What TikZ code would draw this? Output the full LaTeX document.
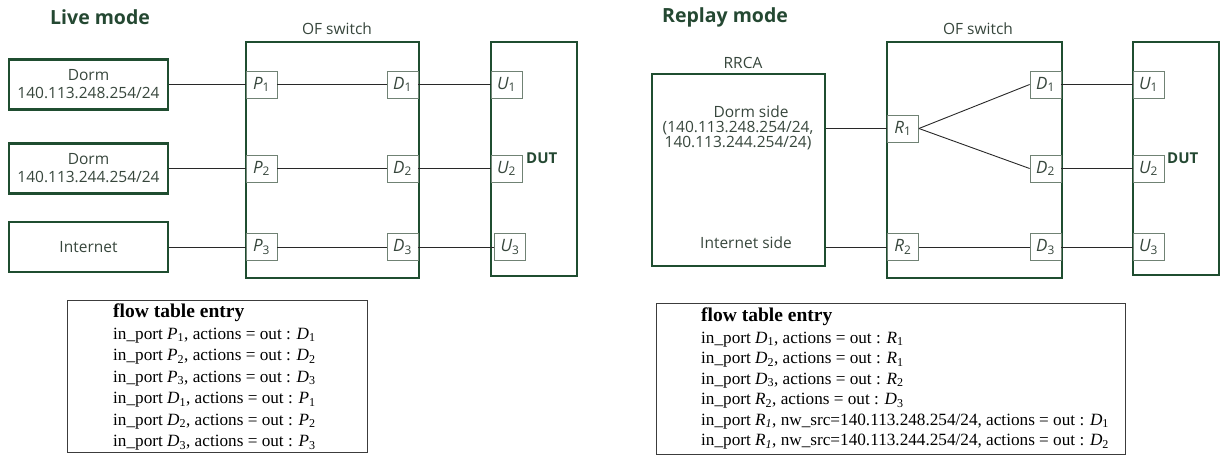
\documentclass[tikz,border=0pt]{standalone}
\usepackage{fontspec}
\setmainfont{Liberation Serif}
\newfontfamily\osans{Open Sans}
\definecolor{boxgreen}{RGB}{31,77,48}
\definecolor{titlegreen}{RGB}{36,72,50}
\definecolor{labelgray}{RGB}{55,70,60}
\definecolor{portgray}{RGB}{112,130,116}
\definecolor{wiregray}{RGB}{40,40,40}
\definecolor{tablegray}{RGB}{60,60,60}
\newcommand{\pl}[2]{\textit{#1}\textsubscript{#2}}
\begin{document}
\begin{tikzpicture}[x=1pt,y=-1pt,
  bigbox/.style={draw=boxgreen, line width=2.7pt, inner sep=0pt},
  lbl/.style={font=\osans\fontsize{15.5}{18}\selectfont, text=labelgray, align=center},
  port/.style={draw=portgray, line width=0.8pt, minimum width=31pt, minimum height=27pt, inner sep=0pt,
    font=\osans\fontsize{17}{17}\selectfont, text=labelgray},
  wire/.style={draw=wiregray, line width=0.9pt},
  tablebox/.style={draw=tablegray, line width=0.9pt, inner sep=0pt},
  tline/.style={anchor=base west, inner sep=0pt, font=\fontsize{17.2}{21}\selectfont},
  ttitle/.style={anchor=base west, inner sep=0pt, font=\bfseries\fontsize{19.5}{21}\selectfont},
  modetitle/.style={anchor=west, inner sep=0pt, font=\osans\bfseries\fontsize{19.5}{20}\selectfont, text=titlegreen},
  dutlbl/.style={anchor=west, inner sep=0pt, font=\osans\bfseries\fontsize{15}{15}\selectfont, text=titlegreen}
]
\useasboundingbox (0,0) rectangle (1224,457);

% ---------------- Live mode ----------------
\node[modetitle] (livet) at (50,17) {Live mode};

\node[bigbox, lbl, minimum width=159pt, minimum height=50pt] (dorm1) at (88.5,84.5) {Dorm\\140.113.248.254/24};
\node[bigbox, lbl, minimum width=159pt, minimum height=50pt] (dorm2) at (88.5,168.5) {Dorm\\140.113.244.254/24};
\node[bigbox, lbl, minimum width=159pt, minimum height=50pt] (inet) at (88.5,247) {Internet};

\node[bigbox, minimum width=173pt, minimum height=236pt] (swl) at (332.5,160) {};
\node[lbl] (swlt) at (337,29) {OF switch};
\node[port] (p1) at (261.5,84.5) {\pl{P}{1}};
\node[port] (p2) at (261.5,168.5) {\pl{P}{2}};
\node[port] (p3) at (261.5,247) {\pl{P}{3}};
\node[port] (ld1) at (402.5,84.5) {\pl{D}{1}};
\node[port] (ld2) at (402.5,168.5) {\pl{D}{2}};
\node[port] (ld3) at (402.5,247) {\pl{D}{3}};

\node[bigbox, minimum width=86pt, minimum height=234pt] (dutl) at (534,159) {};
\node[port] (lu1) at (506.5,84.5) {\pl{U}{1}};
\node[port] (lu2) at (506.5,168.5) {\pl{U}{2}};
\node[port] (lu3) at (510,247) {\pl{U}{3}};
\node[dutlbl] (dutlt) at (526,158) {DUT};

\draw[wire] (dorm1.east) -- (p1.west);
\draw[wire] (dorm2.east) -- (p2.west);
\draw[wire] (inet.east) -- (p3.west);
\draw[wire] (p1.east) -- (ld1.west);
\draw[wire] (p2.east) -- (ld2.west);
\draw[wire] (p3.east) -- (ld3.west);
\draw[wire] (ld1.east) -- (lu1.west);
\draw[wire] (ld2.east) -- (lu2.west);
\draw[wire] (ld3.east) -- (lu3.west);

% flow table (live)
\node[tablebox, minimum width=300pt, minimum height=152pt] (ftl) at (217,376) {};
\node[ttitle] (ftl0) at (113,317) {flow table entry};
\node[tline] (ftl1) at (113,339) {in\_port \pl{P}{1}, actions = out : \pl{D}{1}};
\node[tline] (ftl2) at (113,360.5) {in\_port \pl{P}{2}, actions = out : \pl{D}{2}};
\node[tline] (ftl3) at (113,382) {in\_port \pl{P}{3}, actions = out : \pl{D}{3}};
\node[tline] (ftl4) at (113,403.5) {in\_port \pl{D}{1}, actions = out : \pl{P}{1}};
\node[tline] (ftl5) at (113,425) {in\_port \pl{D}{2}, actions = out : \pl{P}{2}};
\node[tline] (ftl6) at (113,446.5) {in\_port \pl{D}{3}, actions = out : \pl{P}{3}};

% ---------------- Replay mode ----------------
\node[modetitle] (rept) at (662,17) {Replay mode};

\node[bigbox, minimum width=173pt, minimum height=192pt] (rrca) at (738.5,170) {};
\node[lbl] (rrcat) at (743,63) {RRCA};
\node[lbl, font=\osans\fontsize{15.5}{15}\selectfont] (dside) at (738,128) {\hspace*{26pt}Dorm side\\(140.113.248.254/24,\\140.113.244.254/24)};
\node[lbl] (iside) at (746,243) {Internet side};

\node[bigbox, minimum width=175pt, minimum height=236pt] (swr) at (974.5,160) {};
\node[lbl] (swrt) at (978,29) {OF switch};
\node[port] (r1) at (903,128.5) {\pl{R}{1}};
\node[port] (r2) at (903,247) {\pl{R}{2}};
\node[port] (rd1) at (1045.5,84.5) {\pl{D}{1}};
\node[port] (rd2) at (1045.5,168.5) {\pl{D}{2}};
\node[port] (rd3) at (1045.5,247) {\pl{D}{3}};

\node[bigbox, minimum width=86pt, minimum height=233pt] (dutr) at (1176,158.5) {};
\node[port] (ru1) at (1148.5,84.5) {\pl{U}{1}};
\node[port] (ru2) at (1148.5,168.5) {\pl{U}{2}};
\node[port] (ru3) at (1148.5,247) {\pl{U}{3}};
\node[dutlbl] (dutrt) at (1167,158) {DUT};

\draw[wire] (rrca.east |- r1.west) -- (r1.west);
\draw[wire] (rrca.east |- r2.west) -- (r2.west);
\draw[wire] (r1.east) -- (rd1.west);
\draw[wire] (r1.east) -- (rd2.west);
\draw[wire] (r2.east) -- (rd3.west);
\draw[wire] (rd1.east) -- (ru1.west);
\draw[wire] (rd2.east) -- (ru2.west);
\draw[wire] (rd3.east) -- (ru3.west);

% flow table (replay)
\node[tablebox, minimum width=469pt, minimum height=151pt] (ftr) at (890.5,378.5) {};
\node[ttitle] (ftr0) at (701,321) {flow table entry};
\node[tline] (ftr1) at (701,343) {in\_port \pl{D}{1}, actions = out : \pl{R}{1}};
\node[tline] (ftr2) at (701,363.5) {in\_port \pl{D}{2}, actions = out : \pl{R}{1}};
\node[tline] (ftr3) at (701,384) {in\_port \pl{D}{3}, actions = out : \pl{R}{2}};
\node[tline] (ftr4) at (701,404.5) {in\_port \pl{R}{2}, actions = out : \pl{D}{3}};
\node[tline] (ftr5) at (701,425) {in\_port \textit{R}\textsubscript{\textit{1}}, nw\_src=140.113.248.254/24, actions = out : \pl{D}{1}};
\node[tline] (ftr6) at (701,445.5) {in\_port \textit{R}\textsubscript{\textit{1}}, nw\_src=140.113.244.254/24, actions = out : \pl{D}{2}};
\end{tikzpicture}
\end{document}
